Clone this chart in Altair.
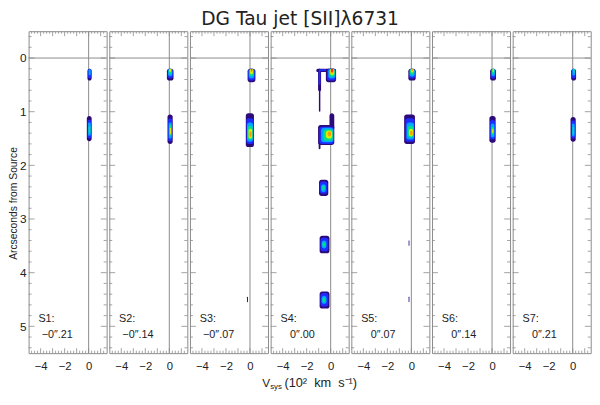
import altair as alt
import pandas as pd

TITLE = "DG Tau jet [SII]λ6731"
Y_TITLE = "Arcseconds from Source"
panel_names = ["S1:", "S2:", "S3:", "S4:", "S5:", "S6:", "S7:"]
panel_offsets = ["−0″.21", "−0″.14", "−0″.07", "0″.00", "0″.07", "0″.14", "0″.21"]
y_labels = [0, 1, 2, 3, 4, 5]
x_labels = [-4, -2, 0]
x_major_ticks = [-4, -3, -2, -1, 0, 1]
x_minor_ticks = [k / 4 for k in range(-19, 6) if k % 4]
y_major_ticks = [0, 1, 2, 3, 4, 5]
y_minor_ticks = [k / 5 for k in range(-2, 28) if k % 5]

# contour levels (0 = outermost, dark) -> colours of the rainbow table
level_colors = ["#2c0a7a", "#1f2cff", "#00a6ff", "#00e08a", "#d8f000", "#ff9a00", "#ff2a00"]

# each patch: (level, v_from, v_to, offset_from, offset_to)  [v in 1e2 km/s, offset in arcsec]
s1_blobs = [
    (0, -0.10, 0.25, 0.20, 0.42), (1, -0.05, 0.22, 0.20, 0.38), (2, 0.00, 0.18, 0.21, 0.32),
    (0, -0.15, 0.25, 1.08, 1.55), (1, -0.10, 0.22, 1.15, 1.50), (2, -0.05, 0.18, 1.20, 1.45),
    (3, 0.00, 0.15, 1.27, 1.40),
]
s2_blobs = [
    (0, -0.20, 0.35, 0.20, 0.42), (1, -0.15, 0.30, 0.20, 0.38), (2, -0.10, 0.25, 0.20, 0.34),
    (3, -0.05, 0.20, 0.20, 0.30), (4, 0.00, 0.15, 0.20, 0.26),
    (0, -0.15, 0.28, 1.05, 1.60), (1, -0.10, 0.24, 1.12, 1.55), (2, -0.05, 0.20, 1.20, 1.50),
    (3, 0.00, 0.18, 1.25, 1.45), (4, 0.04, 0.15, 1.30, 1.42),
]
s3_blobs = [
    (0, -0.20, 0.45, 0.20, 0.45), (1, -0.15, 0.40, 0.20, 0.42), (2, -0.10, 0.35, 0.20, 0.38),
    (3, -0.05, 0.30, 0.20, 0.34), (4, 0.00, 0.25, 0.20, 0.30), (5, 0.05, 0.20, 0.20, 0.26),
    (6, 0.08, 0.17, 0.20, 0.23),
    (0, -0.35, 0.33, 1.03, 1.66), (1, -0.30, 0.30, 1.12, 1.60), (2, -0.25, 0.26, 1.20, 1.56),
    (3, -0.20, 0.22, 1.26, 1.52), (4, -0.12, 0.18, 1.32, 1.50), (5, -0.05, 0.14, 1.37, 1.47),
    (0, -0.25, -0.17, 4.45, 4.55),
]
s4_blobs = [
    (0, -1.20, 0.45, 0.20, 0.26), (0, -1.05, -0.80, 0.20, 0.62), (0, -0.98, -0.86, 0.55, 1.00),
    (1, -1.00, -0.85, 0.22, 0.50), (1, -0.95, -0.35, 0.21, 0.24),
    (0, -0.40, 0.45, 0.20, 0.45), (1, -0.30, 0.42, 0.20, 0.42), (2, -0.20, 0.38, 0.20, 0.38),
    (3, -0.12, 0.34, 0.20, 0.35), (4, -0.05, 0.30, 0.20, 0.32), (5, 0.00, 0.25, 0.20, 0.29),
    (6, 0.03, 0.20, 0.20, 0.26),
    (0, -0.10, 0.30, 1.03, 1.35), (0, -1.05, 0.30, 1.25, 1.62), (0, -1.00, -0.85, 1.55, 1.70),
    (1, -0.95, 0.26, 1.28, 1.60), (2, -0.80, 0.22, 1.30, 1.57), (3, -0.60, 0.18, 1.33, 1.54),
    (4, -0.40, 0.12, 1.35, 1.50), (5, -0.25, 0.05, 1.37, 1.46),
    (0, -0.97, -0.20, 2.27, 2.57), (1, -0.90, -0.28, 2.30, 2.53), (2, -0.80, -0.40, 2.35, 2.50),
    (3, -0.72, -0.50, 2.38, 2.46),
    (0, -0.92, -0.10, 3.31, 3.64), (1, -0.85, -0.20, 3.35, 3.60), (2, -0.75, -0.35, 3.40, 3.55),
    (3, -0.68, -0.45, 3.44, 3.51),
    (0, -0.92, -0.10, 4.35, 4.67), (1, -0.85, -0.20, 4.38, 4.63), (2, -0.75, -0.35, 4.43, 4.58),
    (3, -0.68, -0.45, 4.47, 4.55),
]
s5_blobs = [
    (0, -0.25, 0.36, 0.20, 0.42), (1, -0.20, 0.32, 0.20, 0.38), (2, -0.15, 0.28, 0.20, 0.35),
    (3, -0.10, 0.24, 0.20, 0.31), (4, -0.05, 0.20, 0.20, 0.27), (5, 0.00, 0.15, 0.20, 0.24),
    (0, -0.60, 0.30, 1.05, 1.60), (1, -0.50, 0.26, 1.12, 1.56), (2, -0.40, 0.22, 1.20, 1.52),
    (3, -0.30, 0.18, 1.26, 1.48), (4, -0.20, 0.14, 1.32, 1.46), (5, -0.10, 0.10, 1.36, 1.44),
    (0, -0.23, -0.16, 3.40, 3.50), (0, -0.23, -0.16, 4.45, 4.55),
]
s6_blobs = [
    (0, -0.16, 0.33, 0.20, 0.42), (1, -0.10, 0.28, 0.20, 0.38), (2, -0.05, 0.24, 0.20, 0.34),
    (3, 0.00, 0.20, 0.20, 0.30), (4, 0.04, 0.16, 0.20, 0.26),
    (0, -0.22, 0.30, 1.08, 1.58), (1, -0.16, 0.25, 1.15, 1.52), (2, -0.10, 0.20, 1.22, 1.48),
    (3, -0.04, 0.16, 1.28, 1.44), (4, 0.00, 0.12, 1.32, 1.40),
]
s7_blobs = [
    (0, -0.13, 0.28, 0.20, 0.42), (1, -0.08, 0.24, 0.20, 0.38), (2, -0.03, 0.20, 0.20, 0.33),
    (3, 0.02, 0.15, 0.20, 0.28),
    (0, -0.18, 0.25, 1.10, 1.56), (1, -0.12, 0.20, 1.16, 1.50), (2, -0.06, 0.16, 1.22, 1.46),
    (3, 0.00, 0.12, 1.28, 1.42),
]
all_blobs = [s1_blobs, s2_blobs, s3_blobs, s4_blobs, s5_blobs, s6_blobs, s7_blobs]

W, H = 79.5, 328
GRAY = "#8a8a8a"
TXT = "#222222"
FONT = "Liberation Sans"
NB = "\u00a0"

xs = alt.Scale(domain=[-5, 1.5], nice=False, zero=False)
ys = alt.Scale(domain=[-0.5, 5.5], reverse=True, nice=False, zero=False)
cs = alt.Scale(domain=list(range(len(level_colors))), range=level_colors)


def make_panel(i):
    xaxis = alt.Axis(values=x_labels, ticks=False, tickSize=0, domain=False, grid=False,
                     labelPadding=8, title=None, labelFont=FONT, labelFontSize=11.5,
                     labelColor=TXT, format="d")
    if i == 0:
        yaxis = alt.Axis(values=y_labels, ticks=False, tickSize=0, domain=False, grid=False,
                         labelPadding=2.5, title=Y_TITLE, titleFont=FONT, titleFontSize=10.5,
                         titleFontWeight="normal", titleColor=TXT, titleX=-10, titleY=175,
                         labelFont=FONT, labelFontSize=12, labelColor=TXT, format="d")
    else:
        yaxis = None

    df = pd.DataFrame(all_blobs[i], columns=["level", "v0", "v1", "p0", "p1"])
    blobs = alt.Chart(df).mark_rect(cornerRadius=2.5).encode(
        x=alt.X("v0:Q", scale=xs, axis=xaxis),
        x2="v1:Q",
        y=alt.Y("p0:Q", scale=ys, axis=yaxis),
        y2="p1:Q",
        color=alt.Color("level:O", scale=cs, legend=None),
    )

    zero_v = alt.Chart(pd.DataFrame({"v": [0]})).mark_rule(color=GRAY, strokeWidth=1).encode(
        x=alt.X("v:Q", scale=xs, axis=xaxis))
    zero_p = alt.Chart(pd.DataFrame({"p": [0]})).mark_rule(color=GRAY, strokeWidth=1).encode(
        y=alt.Y("p:Q", scale=ys, axis=yaxis))

    layers = [zero_v, zero_p, blobs]

    for vals, ln in [(x_major_ticks, 5), (x_minor_ticks, 2.5)]:
        base = alt.Chart(pd.DataFrame({"v": vals})).mark_rule(color=GRAY, strokeWidth=0.8)
        xe = alt.X("v:Q", scale=xs, axis=xaxis)
        layers.append(base.encode(x=xe, y=alt.value(0), y2=alt.value(ln)))
        layers.append(base.encode(x=xe, y=alt.value(H), y2=alt.value(H - ln)))
    for vals, ln in [(y_major_ticks, 6), (y_minor_ticks, 3)]:
        base = alt.Chart(pd.DataFrame({"v": vals})).mark_rule(color=GRAY, strokeWidth=0.8)
        ye = alt.Y("v:Q", scale=ys, axis=yaxis)
        layers.append(base.encode(y=ye, x=alt.value(0), x2=alt.value(ln)))
        layers.append(base.encode(y=ye, x=alt.value(W), x2=alt.value(W - ln)))

    name = alt.Chart(pd.DataFrame({"t": [panel_names[i]]})).mark_text(
        align="left", baseline="middle", font=FONT, fontSize=11, color=TXT).encode(
        x=alt.value(10), y=alt.value(293), text="t:N")
    off = alt.Chart(pd.DataFrame({"t": [panel_offsets[i]]})).mark_text(
        align="right", baseline="middle", font=FONT, fontSize=11, color=TXT).encode(
        x=alt.value(45), y=alt.value(309.5), text="t:N")
    layers += [name, off]

    if i == 3:
        t1 = alt.Chart(pd.DataFrame({"t": ["V"]})).mark_text(
            align="left", baseline="alphabetic", font=FONT, fontSize=12, color=TXT).encode(
            x=alt.value(-8.5), y=alt.value(H + 34), text="t:N")
        t2 = alt.Chart(pd.DataFrame({"t": ["sys"]})).mark_text(
            align="left", baseline="alphabetic", font=FONT, fontSize=8, color=TXT).encode(
            x=alt.value(-0.5), y=alt.value(H + 37), text="t:N")
        t3 = alt.Chart(pd.DataFrame({"t": ["(10²" + NB + NB + "km" + NB + NB + "s⁻¹)"]})).mark_text(
            align="left", baseline="alphabetic", font=FONT, fontSize=13, color=TXT).encode(
            x=alt.value(14), y=alt.value(H + 34), text="t:N")
        layers += [t1, t2, t3]

    return alt.layer(*layers).properties(width=W, height=H)


panels = [make_panel(i) for i in range(7)]

chart = alt.hconcat(*panels, spacing=2.2, bounds="flush").properties(
    title=alt.TitleParams(TITLE, font="DejaVu Sans", fontSize=19, fontWeight="normal",
                          color=TXT, offset=1, anchor="middle"),
    padding={"left": 0, "top": -1, "right": 0, "bottom": 0},
).configure_view(stroke=GRAY, strokeWidth=1)

chart.save("out.html", embed_options={"renderer": "svg", "actions": False})
